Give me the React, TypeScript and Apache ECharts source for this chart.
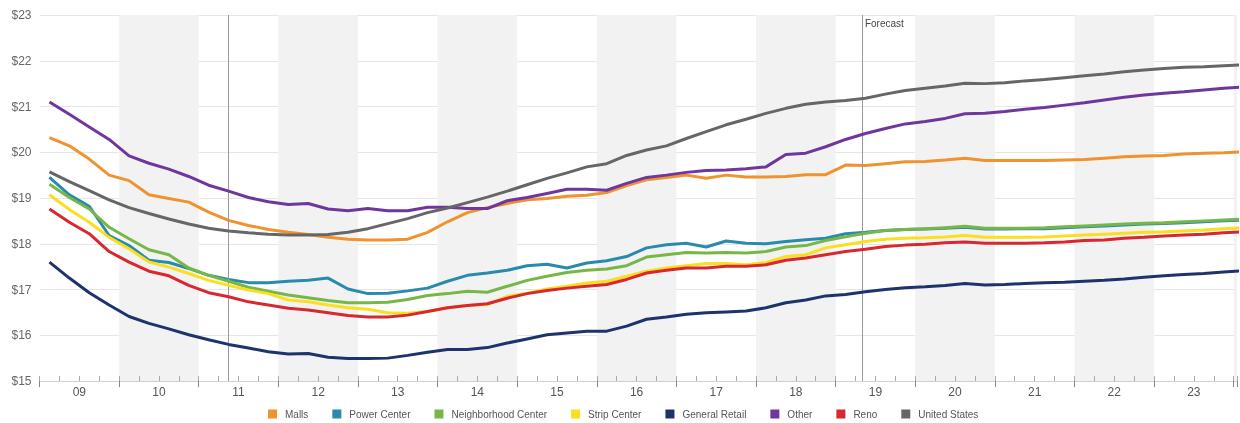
import React, { useEffect, useRef } from "react";
import * as echarts from "echarts";

const quarters: string[] = [];
for (let y = 2009; y <= 2024; y++) for (let q = 1; q <= 4; q++) quarters.push(`${y}Q${q}`);
quarters.length = 61; // 2009Q1 .. 2024Q1

const yearLabels = ["09", "10", "11", "12", "13", "14", "15", "16", "17", "18", "19", "20", "21", "22", "23"];
const markerLines = [2011.37, 2019.33];
const forecastLabel = "Forecast";

const malls = [
  20.32, 20.14, 19.85, 19.5, 19.38, 19.07, 18.99, 18.91, 18.69, 18.51, 18.4, 18.31, 18.25, 18.2, 18.14,
  18.1, 18.08, 18.08, 18.1, 18.25, 18.48, 18.68, 18.79, 18.88, 18.96, 18.99, 19.04, 19.06, 19.12, 19.27,
  19.4, 19.45, 19.5, 19.43, 19.5, 19.46, 19.46, 19.47, 19.51, 19.51, 19.72, 19.71, 19.75, 19.79, 19.8,
  19.83, 19.87, 19.82, 19.82, 19.82, 19.82, 19.83, 19.84, 19.87, 19.9, 19.92, 19.93, 19.96, 19.98, 19.99, 20.01,
];
const powerCenter = [
  19.45, 19.07, 18.82, 18.18, 17.96, 17.64, 17.59, 17.46, 17.31, 17.22, 17.15, 17.15, 17.18, 17.2, 17.25,
  17.01, 16.91, 16.92, 16.97, 17.03, 17.18, 17.31, 17.36, 17.42, 17.52, 17.55, 17.47, 17.58, 17.63, 17.72,
  17.91, 17.98, 18.01, 17.93, 18.06, 18.01, 18.0, 18.05, 18.09, 18.12, 18.22, 18.25, 18.29, 18.31, 18.32,
  18.34, 18.36, 18.32, 18.32, 18.33, 18.33, 18.35, 18.37, 18.39, 18.41, 18.43, 18.44, 18.46, 18.48, 18.5, 18.52,
];
const neighborhoodCenter = [
  19.3, 19.01, 18.76, 18.36, 18.11, 17.87, 17.76, 17.47, 17.31, 17.18, 17.05, 16.96, 16.88, 16.82, 16.76,
  16.71, 16.71, 16.72, 16.78, 16.87, 16.91, 16.96, 16.94, 17.07, 17.2, 17.29, 17.37, 17.42, 17.45, 17.52,
  17.71, 17.76, 17.81, 17.8, 17.81, 17.8, 17.83, 17.93, 17.96, 18.07, 18.15, 18.23, 18.29, 18.31, 18.33,
  18.35, 18.38, 18.34, 18.34, 18.34, 18.35, 18.37, 18.39, 18.41, 18.43, 18.45, 18.46, 18.48, 18.5, 18.52, 18.54,
];
const stripCenter = [
  19.07, 18.75, 18.47, 18.14, 17.89, 17.6, 17.49, 17.35, 17.2, 17.09, 16.99, 16.91, 16.77, 16.73, 16.66,
  16.6, 16.57, 16.49, 16.48, 16.52, 16.6, 16.65, 16.67, 16.85, 16.92, 17.01, 17.07, 17.14, 17.18, 17.29,
  17.4, 17.47, 17.52, 17.57, 17.57, 17.54, 17.59, 17.72, 17.76, 17.91, 17.98, 18.05, 18.1, 18.12, 18.13,
  18.15, 18.18, 18.14, 18.14, 18.14, 18.15, 18.17, 18.19, 18.21, 18.23, 18.25, 18.26, 18.28, 18.3, 18.33, 18.35,
];
const generalRetail = [
  17.6, 17.25, 16.93, 16.66, 16.41, 16.26, 16.14, 16.01, 15.9, 15.8, 15.72, 15.64, 15.59, 15.6, 15.52,
  15.49, 15.49, 15.5, 15.56, 15.63, 15.69, 15.69, 15.73, 15.83, 15.92, 16.01, 16.05, 16.09, 16.09, 16.2,
  16.35, 16.4, 16.46, 16.49, 16.51, 16.53, 16.6, 16.71, 16.77, 16.86, 16.89, 16.95, 17.0, 17.04, 17.06,
  17.09, 17.13, 17.1, 17.11, 17.13, 17.15, 17.16, 17.18, 17.2, 17.23, 17.27, 17.3, 17.33, 17.35, 17.38, 17.41,
];
const other = [
  21.1, 20.83, 20.55, 20.28, 19.92, 19.76, 19.63, 19.47, 19.28, 19.15, 19.01, 18.92, 18.86, 18.88, 18.76,
  18.72, 18.77, 18.72, 18.72, 18.8, 18.8, 18.77, 18.77, 18.94, 19.01, 19.1, 19.19, 19.19, 19.17, 19.32,
  19.45, 19.5, 19.56, 19.6, 19.61, 19.64, 19.68, 19.95, 19.98, 20.12, 20.28, 20.41, 20.52, 20.62, 20.67,
  20.74, 20.84, 20.85, 20.89, 20.94, 20.98, 21.03, 21.08, 21.14, 21.2, 21.25, 21.29, 21.32, 21.36, 21.4, 21.43,
];
const reno = [
  18.76, 18.47, 18.22, 17.83, 17.6, 17.4, 17.3, 17.09, 16.93, 16.84, 16.73, 16.66, 16.59, 16.55, 16.49,
  16.43, 16.4, 16.4, 16.44, 16.52, 16.6, 16.65, 16.69, 16.81, 16.91, 16.98, 17.03, 17.07, 17.11, 17.22,
  17.36, 17.42, 17.47, 17.47, 17.51, 17.51, 17.54, 17.64, 17.69, 17.76, 17.83, 17.88, 17.94, 17.97, 17.99,
  18.02, 18.04, 18.01, 18.01, 18.01, 18.02, 18.04, 18.07, 18.08, 18.12, 18.14, 18.17, 18.19, 18.21, 18.24, 18.26,
];
const unitedStates = [
  19.57, 19.36, 19.16, 18.96, 18.79, 18.66, 18.54, 18.43, 18.34, 18.28, 18.24, 18.21, 18.19, 18.19, 18.2,
  18.25, 18.33, 18.44, 18.55, 18.68, 18.78, 18.9, 19.02, 19.15, 19.29, 19.43, 19.55, 19.68, 19.75, 19.93,
  20.05, 20.14, 20.3, 20.45, 20.6, 20.72, 20.85, 20.96, 21.05, 21.1, 21.13, 21.18, 21.27, 21.35, 21.4,
  21.45, 21.51, 21.5, 21.52, 21.56, 21.59, 21.63, 21.67, 21.71, 21.76, 21.8, 21.83, 21.86, 21.87, 21.89, 21.91,
];

const seriesDefs: [string, number[], string][] = [
  ["Malls", malls, "#f0922f"],
  ["Power Center", powerCenter, "#2a8aad"],
  ["Neighborhood Center", neighborhoodCenter, "#76b748"],
  ["Strip Center", stripCenter, "#f9df1f"],
  ["General Retail", generalRetail, "#1e336e"],
  ["Other", other, "#6f379e"],
  ["Reno", reno, "#d92730"],
  ["United States", unitedStates, "#666666"],
];

const FONT = "'Liberation Sans', Arial, sans-serif";
const XMIN = 2009;
const XMAX = 2024.042;

export default function App() {
  const ref = useRef<HTMLDivElement>(null);
  useEffect(() => {
    const chart = echarts.init(ref.current!, null, { renderer: "svg" });
    const xs = quarters.map((q) => {
      const y = Number(q.slice(0, 4));
      const n = Number(q.slice(5));
      return y + (n - 0.5) / 4;
    });
    const series: any[] = seriesDefs.map(([name, vals, color], k) => ({
      name,
      type: "line",
      data: vals.map((v, i) => [xs[i], v]),
      symbol: "none",
      clip: true,
      lineStyle: { width: 3, color },
      itemStyle: { color },
      z: 3 + k,
    }));
    series[0].markLine = {
      silent: true,
      symbol: "none",
      label: { show: false },
      lineStyle: { color: "#9a9a9a", width: 1, type: "solid" },
      data: markerLines.map((x) => ({ xAxis: x })),
    };
    chart.setOption({
      animation: false,
      textStyle: { fontFamily: FONT },
      grid: { left: 39.5, right: 0, top: 15, bottom: 42, containLabel: false },
      legend: {
        left: 263,
        top: 404,
        icon: "rect",
        itemWidth: 9,
        itemHeight: 9,
        itemGap: 24,
        textStyle: { fontSize: 10, color: "#555", fontFamily: FONT, padding: [0, 0, 0, 3] },
        data: seriesDefs.map((d) => d[0]),
      },
      xAxis: [
        {
          type: "value",
          min: XMIN,
          max: XMAX,
          interval: 0.25,
          position: "bottom",
          axisLine: { show: true, lineStyle: { color: "#d0d0d0" } },
          axisTick: { show: true, inside: true, length: 5, lineStyle: { color: "#aaa" } },
          axisLabel: { show: false },
          splitLine: { show: false },
        },
        {
          type: "value",
          min: XMIN,
          max: XMAX,
          interval: 1,
          position: "bottom",
          axisLine: { show: false },
          axisTick: { show: true, inside: false, length: 6, lineStyle: { color: "#888" } },
          axisLabel: { show: false },
          splitLine: { show: false },
          splitArea: { show: true, areaStyle: { color: ["rgba(255,255,255,0)", "#f2f2f2"] } },
        },
        {
          type: "value",
          min: XMIN,
          max: XMAX,
          interval: 0.5,
          position: "bottom",
          axisLine: { show: false },
          axisTick: { show: false },
          splitLine: { show: false },
          axisLabel: {
            margin: 5,
            fontSize: 12,
            color: "#555",
            fontFamily: FONT,
            formatter: (v: number) => {
              const frac = v - Math.floor(v);
              if (Math.abs(frac - 0.5) > 0.01) return "";
              const idx = Math.floor(v) - XMIN;
              return yearLabels[idx] ?? "";
            },
          },
        },
      ],
      yAxis: {
        type: "value",
        min: 15,
        max: 23,
        interval: 1,
        axisLine: { show: false },
        axisTick: { show: false },
        axisLabel: { margin: 8, fontSize: 12, color: "#666", fontFamily: FONT, formatter: (v: number) => "$" + v },
        splitLine: { show: true, lineStyle: { color: "#e6e6e6" } },
      },
      series,
    });
    const fx = chart.convertToPixel({ xAxisIndex: 0 }, markerLines[1]) as number;
    chart.setOption({
      graphic: [
        {
          type: "text",
          x: fx + 3,
          y: 18,
          style: { text: forecastLabel, fill: "#444", fontSize: 10, fontFamily: FONT },
        },
      ],
    });
    return () => chart.dispose();
  }, []);
  return <div ref={ref} style={{ position: "fixed", left: 0, top: 0, width: 1240, height: 423 }} />;
}
